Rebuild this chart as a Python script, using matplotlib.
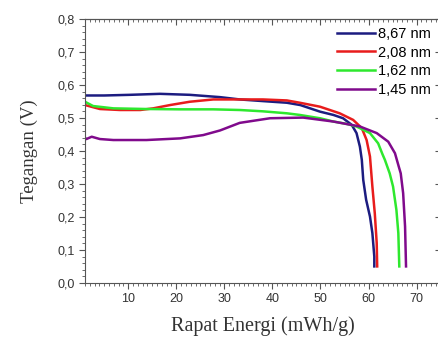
import matplotlib.pyplot as plt
from matplotlib.ticker import MultipleLocator, FuncFormatter

# data (x: mWh/g, y: V)
blue_x = [1, 5, 10.4, 16.6, 22.8, 29.1, 33.2, 38, 43, 45.8, 49.9, 52.7, 54.7, 56.5, 57.5,
          58.2, 58.6, 58.9, 59.5, 60.3, 60.8, 61.2, 61.2]
blue_y = [0.568, 0.568, 0.570, 0.573, 0.570, 0.563, 0.556, 0.551, 0.546, 0.539, 0.519, 0.509, 0.499, 0.479, 0.454,
          0.413, 0.373, 0.312, 0.252, 0.201, 0.151, 0.08, 0.05]

red_x = [1, 4.1, 8.3, 12.5, 15.2, 18.7, 22.8, 27.7, 33.2, 38, 43, 45.7, 49.9, 54.0, 56.8,
         58.6, 59.6, 60.3, 60.8, 61.3, 61.7, 61.8]
red_y = [0.539, 0.527, 0.524, 0.524, 0.529, 0.539, 0.549, 0.556, 0.556, 0.556, 0.553, 0.546, 0.534, 0.514, 0.494,
         0.469, 0.433, 0.383, 0.292, 0.211, 0.121, 0.05]

green_x = [1, 2.7, 6.9, 13.8, 20.8, 27.7, 33.2, 38, 43, 45.7, 49.9, 52.7, 55.4, 57.5, 60.3,
           62.0, 62.9, 63.4, 64.4, 65.1, 65.8, 66.2, 66.4]
green_y = [0.549, 0.536, 0.529, 0.527, 0.526, 0.526, 0.524, 0.520, 0.514, 0.509, 0.499, 0.489, 0.482, 0.474, 0.454,
           0.423, 0.390, 0.373, 0.332, 0.292, 0.221, 0.151, 0.05]

purple_x = [1, 1.3, 2.4, 4.1, 6.9, 13.8, 20.8, 25.6, 29.1, 33.2, 39.5, 46.4, 52.7, 58.2, 61.7,
            64.1, 65.5, 66.3, 66.7, 67.2, 67.6, 67.8]
purple_y = [0.440, 0.436, 0.443, 0.436, 0.433, 0.433, 0.438, 0.448, 0.462, 0.485, 0.499, 0.501, 0.489, 0.474, 0.454,
            0.428, 0.393, 0.352, 0.332, 0.272, 0.171, 0.05]

labels = ['8,67 nm', '2,08 nm', '1,62 nm', '1,45 nm']
colors = ['#1c1c80', '#e81c1c', '#2ee82e', '#800a8c']

fig = plt.figure(figsize=(4.38, 3.38), dpi=100)
ax = fig.add_axes([0.194, 0.163, 0.812, 0.781])

series = [(blue_x, blue_y), (red_x, red_y), (green_x, green_y), (purple_x, purple_y)]
for (xs, ys), lab, col in zip(series, labels, colors):
    ax.plot(xs, ys, color=col, lw=1.8, label=lab, solid_joinstyle='round')

ax.set_xlim(1, 75)
ax.set_ylim(0, 0.8)
comma = FuncFormatter(lambda v, p: f'{v:.1f}'.replace('.', ','))

ax.xaxis.set_major_locator(MultipleLocator(10))
ax.xaxis.set_minor_locator(MultipleLocator(1))
ax.yaxis.set_major_locator(MultipleLocator(0.1))
ax.yaxis.set_minor_locator(MultipleLocator(0.02))
ax.yaxis.set_major_formatter(comma)

tick_col = '#555555'
ax.tick_params(which='both', direction='out', color=tick_col, labelsize=9, labelcolor='#333333')
ax.tick_params(which='major', length=4, width=0.8)
ax.tick_params(which='minor', length=2, width=0.6)
for s in ax.spines.values():
    s.set_color(tick_col)

# top and right: ticks pointing inward, no labels
top = ax.secondary_xaxis('top')
right = ax.secondary_yaxis('right')
top.xaxis.set_major_locator(MultipleLocator(10))
top.xaxis.set_minor_locator(MultipleLocator(1))
right.yaxis.set_major_locator(MultipleLocator(0.1))
right.yaxis.set_minor_locator(MultipleLocator(0.02))
for sec in (top, right):
    sec.tick_params(which='both', direction='in', color=tick_col,
                    labeltop=False, labelright=False)
    sec.tick_params(which='major', length=4, width=0.8)
    sec.tick_params(which='minor', length=2, width=0.6)
    for s in sec.spines.values():
        s.set_color(tick_col)

for lbl in ax.get_xticklabels() + ax.get_yticklabels():
    lbl.set_family('Liberation Sans')

ax.set_xlabel('Rapat Energi (mWh/g)', family='Liberation Serif', fontsize=14.5, color='#333333', labelpad=8)
ax.set_ylabel('Tegangan (V)', family='Liberation Serif', fontsize=13.5, color='#333333', labelpad=14)

leg = ax.legend(loc='upper right', frameon=False, prop={'family': 'Liberation Sans', 'size': 10.5},
                handlelength=2.6, handletextpad=0.2, labelspacing=0.33,
                bbox_to_anchor=(1.01, 1.02))

fig.savefig('out.png', dpi=100)
